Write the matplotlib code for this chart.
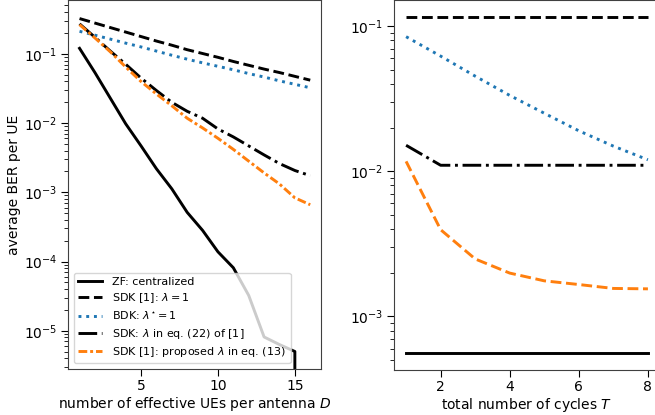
import numpy as np
import matplotlib
matplotlib.use('Agg')
import matplotlib.pyplot as plt

# left panel: BER vs number of effective UEs per antenna D
D = np.arange(1, 17)
zf_log = [-0.92, -1.27, -1.64, -2.01, -2.33, -2.66, -2.95, -3.29,
          -3.55, -3.86, -4.09, -4.49, -5.09, -5.20, -5.30]
ber_zf = [10 ** v for v in zf_log] + [0.0]  # no errors at D=16
ber_sdk1 = [10 ** v for v in [-0.49, -0.555, -0.62, -0.685, -0.75, -0.815, -0.875, -0.94,
                             -0.995, -1.05, -1.11, -1.165, -1.22, -1.27, -1.325, -1.38]]
ber_bdk = [10 ** v for v in [-0.674, -0.73, -0.787, -0.845, -0.90, -0.96, -1.02, -1.077,
                            -1.13, -1.18, -1.23, -1.285, -1.335, -1.39, -1.44, -1.49]]
ber_sdk22 = [10 ** v for v in [-0.567, -0.76, -0.96, -1.15, -1.35, -1.53, -1.70, -1.83,
                              -1.93, -2.085, -2.20, -2.33, -2.46, -2.585, -2.685, -2.76]]
ber_prop = [10 ** v for v in [-0.578, -0.77, -0.97, -1.19, -1.40, -1.58, -1.75, -1.93,
                             -2.07, -2.22, -2.38, -2.55, -2.72, -2.88, -3.08, -3.18]]

# right panel: BER vs total number of cycles T
T = np.arange(1, 9)
t_zf = [5.6e-4] * 8
t_sdk1 = [0.116] * 8
t_bdk = [0.0845, 0.0621, 0.0452, 0.0333, 0.0251, 0.0190, 0.0149, 0.0120]
t_sdk22 = [0.0151, 0.0110, 0.0110, 0.0110, 0.0110, 0.0110, 0.0110, 0.0110]
t_prop = [0.0117, 0.00396, 0.00249, 0.00199, 0.00176, 0.00166, 0.00156, 0.00155]

labels = ['ZF: centralized', r'SDK [1]: $\lambda=1$', r'BDK: $\lambda^{\star}=1$',
          r'SDK: $\lambda$ in eq. (22) of [1]', r'SDK [1]: proposed $\lambda$ in eq. (13)']

plt.rcParams['font.size'] = 10
blue = '#1f77b4'
orange = '#ff7f0e'
lw = 2.1

fig = plt.figure(figsize=(6.55, 4.15), dpi=100)
ax1 = fig.add_axes([68 / 655, 46 / 415, 253 / 655, 368.5 / 415])
ax2 = fig.add_axes([394 / 655, 45 / 415, 266 / 655, 369.5 / 415])

ax1.plot(D, ber_zf, color='k', lw=lw, label=labels[0])
ax1.plot(D, ber_sdk1, color='k', ls='--', lw=lw, label=labels[1])
ax1.plot(D, ber_bdk, color=blue, ls=':', lw=lw, label=labels[2])
ax1.plot(D, ber_sdk22, color='k', ls='-.', lw=lw, label=labels[3])
ax1.plot(D, ber_prop, color=orange, ls=(0, (3, 1, 1, 1)), lw=lw, label=labels[4])
ax1.set_yscale('log', nonpositive='clip')
ax1.set_xlim(0.25, 16.7)
ax1.set_ylim(2.8e-6, 0.59)
ax1.set_xticks([5, 10, 15])
ax1.set_xlabel('number of effective UEs per antenna $D$', labelpad=1)
ax1.set_ylabel('average BER per UE', labelpad=2)
ax1.legend(loc='lower left', fontsize=8, handlelength=2.2, handletextpad=0.9,
           labelspacing=0.4)

ax2.plot(T, t_zf, color='k', lw=lw)
ax2.plot(T, t_sdk1, color='k', ls='--', lw=lw)
ax2.plot(T, t_bdk, color=blue, ls=':', lw=lw)
ax2.plot(T, t_sdk22, color='k', ls='-.', lw=lw)
ax2.plot(T, t_prop, color=orange, ls='--', lw=lw)
ax2.set_yscale('log')
ax2.set_xlim(0.65, 8.35)
ax2.set_ylim(4.28e-4, 0.150)
ax2.set_xticks([2, 4, 6, 8])
ax2.set_xlabel('total number of cycles $T$', labelpad=1)

for ax in (ax1, ax2):
    ax.tick_params(which='major', length=5, pad=2.5)
    ax.tick_params(which='minor', length=3)
    for s in ax.spines.values():
        s.set_color('0.25')

fig.savefig('out.png', dpi=100)
